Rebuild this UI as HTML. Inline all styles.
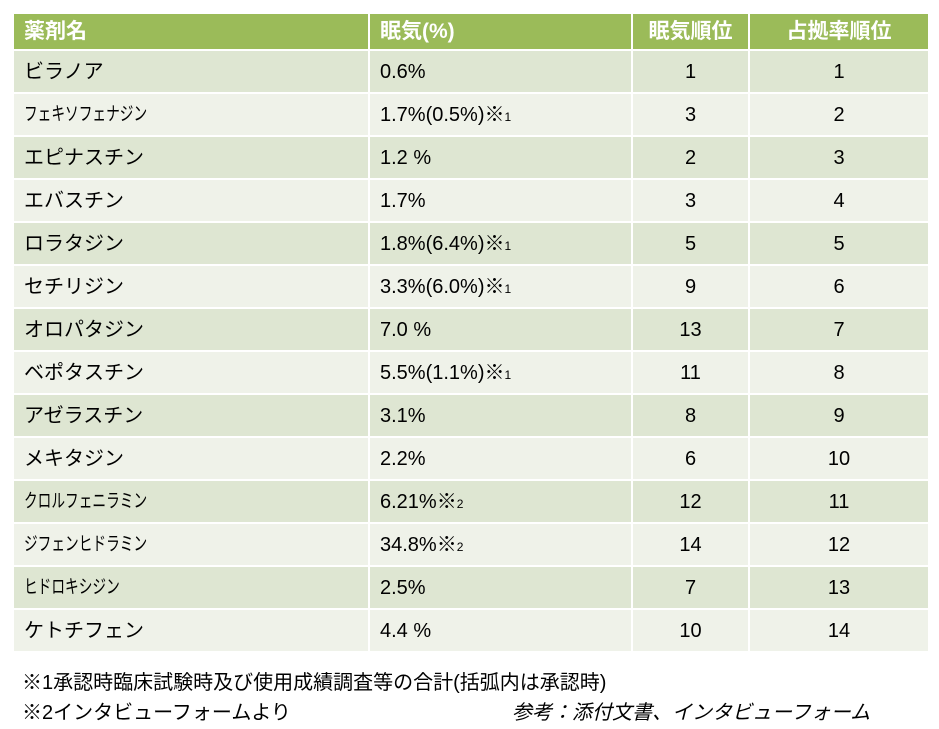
<!DOCTYPE html>
<html><head><meta charset="utf-8"><style>
body{margin:0;width:939px;height:729px;background:#fff;font-family:"Liberation Sans","Noto Sans CJK JP",sans-serif;overflow:hidden;position:relative}
table{position:absolute;left:12px;top:12px;width:916px;border-collapse:collapse;table-layout:fixed}
td,th{border:2px solid #fff;font-size:20px;line-height:22px;color:#000;padding:0 0 0 10px;text-align:left;font-weight:normal;white-space:nowrap;vertical-align:middle;box-sizing:border-box}
th{background:#9bbb59;color:#fff;font-weight:bold;font-size:21px}
tr.h{height:37px}
tr.o,tr.e{height:43px}
tr.o td{background:#dee6d2}
tr.e td{background:#eff2e9}
td.c{text-align:center;padding:0}
th.c{text-align:center;padding:0}
.n{display:inline-block;transform:scaleX(0.72);transform-origin:left;font-size:19px;line-height:22px}
sub{font-size:12px;vertical-align:baseline;line-height:0}
.note{position:absolute;left:22px;font-size:20px}
</style></head><body>
<table>
<colgroup><col style="width:356px"><col style="width:263px"><col style="width:117px"><col style="width:180px"></colgroup>
<tr class="h"><th>薬剤名</th><th>眠気(%)</th><th class="c">眠気順位</th><th class="c">占拠率順位</th></tr>
<tr class="o"><td>ビラノア</td><td>0.6%</td><td class="c">1</td><td class="c">1</td></tr>
<tr class="e"><td><span class="n">フェキソフェナジン</span></td><td>1.7%(0.5%)※<sub>1</sub></td><td class="c">3</td><td class="c">2</td></tr>
<tr class="o"><td>エピナスチン</td><td>1.2 %</td><td class="c">2</td><td class="c">3</td></tr>
<tr class="e"><td>エバスチン</td><td>1.7%</td><td class="c">3</td><td class="c">4</td></tr>
<tr class="o"><td>ロラタジン</td><td>1.8%(6.4%)※<sub>1</sub></td><td class="c">5</td><td class="c">5</td></tr>
<tr class="e"><td>セチリジン</td><td>3.3%(6.0%)※<sub>1</sub></td><td class="c">9</td><td class="c">6</td></tr>
<tr class="o"><td>オロパタジン</td><td>7.0 %</td><td class="c">13</td><td class="c">7</td></tr>
<tr class="e"><td>ベポタスチン</td><td>5.5%(1.1%)※<sub>1</sub></td><td class="c">11</td><td class="c">8</td></tr>
<tr class="o"><td>アゼラスチン</td><td>3.1%</td><td class="c">8</td><td class="c">9</td></tr>
<tr class="e"><td>メキタジン</td><td>2.2%</td><td class="c">6</td><td class="c">10</td></tr>
<tr class="o"><td><span class="n">クロルフェニラミン</span></td><td>6.21%※<sub>2</sub></td><td class="c">12</td><td class="c">11</td></tr>
<tr class="e"><td><span class="n">ジフェンヒドラミン</span></td><td>34.8%※<sub>2</sub></td><td class="c">14</td><td class="c">12</td></tr>
<tr class="o"><td><span class="n">ヒドロキシジン</span></td><td>2.5%</td><td class="c">7</td><td class="c">13</td></tr>
<tr class="e"><td>ケトチフェン</td><td>4.4 %</td><td class="c">10</td><td class="c">14</td></tr>
</table>
<div class="note" style="top:666px">※1承認時臨床試験時及び使用成績調査等の合計(括弧内は承認時)</div>
<div class="note" style="top:696px">※2インタビューフォームより</div>
<div class="note" style="top:696px;left:512px;font-style:italic">参考：添付文書、インタビューフォーム</div>
</body></html>
